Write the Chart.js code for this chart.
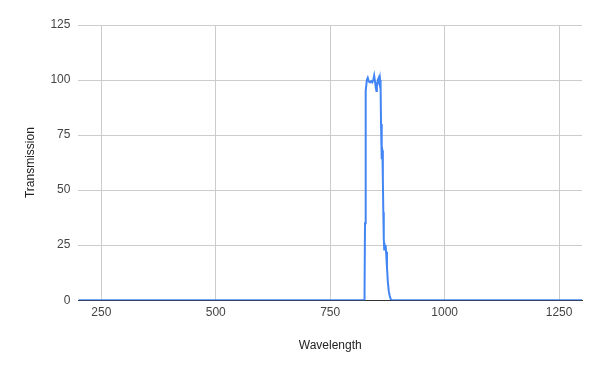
<!DOCTYPE html>
<html>
<head>
<meta charset="utf-8">
<script src="https://cdn.jsdelivr.net/npm/chart.js@4/dist/chart.umd.min.js"></script>
<style>
  html, body { margin: 0; padding: 0; background: #fff; }
  #wrap { width: 600px; height: 371px; }
</style>
</head>
<body>
<div id="wrap"><canvas id="chart" width="600" height="371"></canvas></div>
<script>
// Wavelength (nm) and transmission (%)
const wavelengths = [200, 400, 600, 800, 820, 824, 825, 826, 827, 828, 830, 832, 834, 836, 838, 840, 842, 844, 846, 848, 850, 851, 852, 854, 856, 857, 858, 859, 860, 861, 862, 863, 864, 865, 866, 867, 868, 869, 870, 871, 872, 874, 876, 878, 880, 882, 884, 900, 1000, 1100, 1200, 1300];
const transmission = [0, 0, 0, 0, 0, 0, 3, 35, 70, 95, 100, 101, 99.5, 99, 99, 99.5, 99, 100, 102, 99, 96, 95, 97, 100, 101, 99, 98, 100, 98, 80, 64, 70, 68, 55, 40, 28, 23, 25, 24, 25, 22, 15, 8, 4, 2, 0.5, 0, 0, 0, 0, 0, 0];

const xTicks = [250, 500, 750, 1000, 1250];
const yTicks = [0, 25, 50, 75, 100, 125];

const fontFamily = "'Liberation Sans', Arial, sans-serif";

const points = wavelengths.map((w, i) => ({ x: w, y: transmission[i] }));

new Chart(document.getElementById('chart').getContext('2d'), {
  type: 'line',
  data: {
    datasets: [{
      label: 'Transmission',
      data: points,
      borderColor: '#4285f4',
      borderWidth: 2,
      pointRadius: 0,
      tension: 0,
      fill: false
    }]
  },
  options: {
    responsive: false,
    animation: false,
    layout: { padding: { top: 25, right: 18, bottom: 18, left: 23 } },
    plugins: {
      legend: { display: false },
      tooltip: { enabled: false }
    },
    scales: {
      x: {
        type: 'linear',
        min: 200,
        max: 1300,
        afterBuildTicks: (scale) => { scale.ticks = xTicks.map(v => ({ value: v })); },
        grid: { color: '#cccccc', drawTicks: false },
        border: { display: true, color: '#333333', width: 1 },
        ticks: {
          color: '#444444',
          padding: 5,
          font: { family: fontFamily, size: 12 },
          callback: (v) => String(v)
        },
        title: {
          display: true,
          text: 'Wavelength',
          color: '#222222',
          padding: { top: 14, bottom: 0 },
          font: { family: fontFamily, size: 12 }
        }
      },
      y: {
        min: 0,
        max: 125,
        afterBuildTicks: (scale) => { scale.ticks = yTicks.map(v => ({ value: v })); },
        grid: { color: '#cccccc', drawTicks: false },
        border: { display: false },
        ticks: { color: '#444444', padding: 8, font: { family: fontFamily, size: 12 } },
        title: {
          display: true,
          text: 'Transmission',
          color: '#222222',
          padding: { top: 0, bottom: 5 },
          font: { family: fontFamily, size: 12 }
        }
      }
    }
  }
});
</script>
</body>
</html>
